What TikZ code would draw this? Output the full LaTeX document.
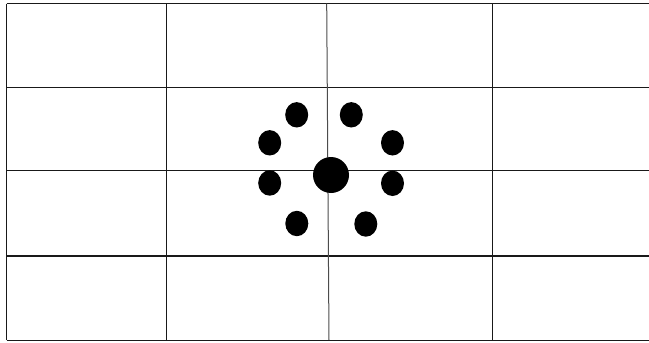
\documentclass[tikz,border=0pt]{standalone}
\begin{document}
\begin{tikzpicture}[x=1pt,y=-1pt,
  gridline/.style={line width=1.3pt,black!90},
  midline/.style={line width=1pt,black!70},
  dot/.style={fill=black}]
\useasboundingbox (0,0) rectangle (649,343);
% horizontal lines
\foreach \y in {3.5,87.3,170.5,256,340.2}
  \draw[gridline] (6.5,\y) -- (649,\y);
% outer left and columns
\draw[gridline] (6.5,3.5) -- (6.5,340.2);
\draw[gridline] (166.5,3.5) -- (166.5,340.2);
\draw[gridline] (492.3,3.5) -- (492.3,340.2);
\draw[midline] (326.7,3.5) -- (329,340.2);
% dots
\fill[dot] (331,175) circle (18);
\foreach \p in {(296.7,114.8),(351.3,114.8),(269.7,142.8),(392.5,142.8),
                (269.7,183),(392.5,183.3),(296.8,223.5),(365.8,224)}
  \fill[dot] \p ellipse (11.5 and 12.7);
\end{tikzpicture}
\end{document}
